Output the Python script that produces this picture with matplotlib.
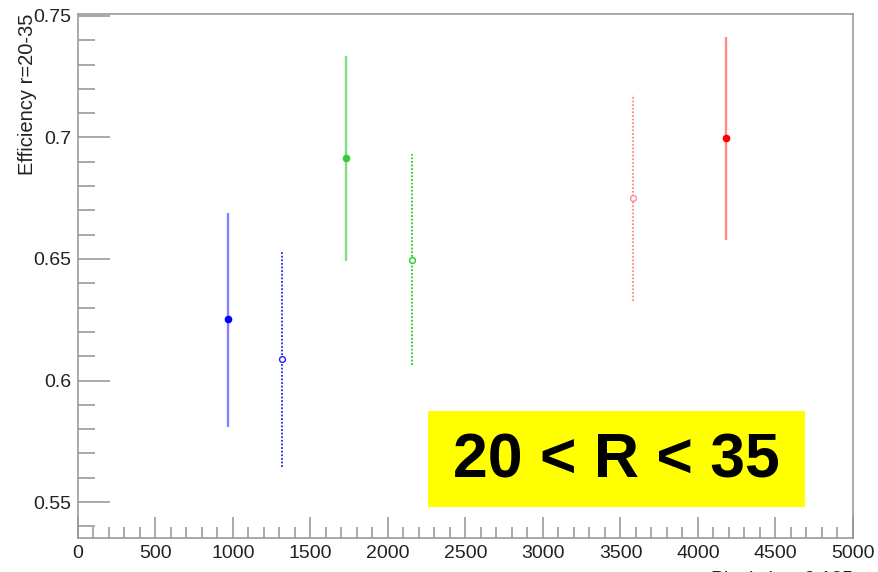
import matplotlib
matplotlib.use("Agg")
import matplotlib.pyplot as plt
from matplotlib.ticker import MultipleLocator

plt.rcParams['font.family'] = ['Liberation Sans', 'DejaVu Sans']

# data
x_vals = [968, 1316, 1729, 2155, 3581, 4181]
y_vals = [0.6253, 0.6089, 0.6916, 0.6496, 0.675, 0.6998]
err_up = [0.0437, 0.044, 0.0419, 0.0436, 0.0425, 0.0416]
err_dn = [0.0443, 0.0445, 0.0424, 0.0432, 0.0423, 0.042]
marker_colors = ['#0000ff', '#0000ff', '#33cc33', '#33cc33', '#ff0000', '#ff0000']
line_colors = ['#8080ff', '#2020ff', '#80dd80', '#22cc22', '#ff8888', '#ff8888']
filled = [True, False, True, False, False, True]
dotted = [False, True, False, True, True, False]

fig = plt.figure(figsize=(8.79, 5.72), dpi=100)
ax = fig.add_axes([78/879, 1-538/572, (853-78)/879, (538-14)/572])

for xv, yv, eu, ed, mc, lc, f, d in zip(x_vals, y_vals, err_up, err_dn,
                                         marker_colors, line_colors, filled, dotted):
    ax.vlines(xv, yv - ed, yv + eu, colors=lc, linewidth=1.7 if not d else 1.3,
              linestyles=(0, (1.0, 1.0)) if d else 'solid', zorder=2)
    ax.plot([xv], [yv], 'o', ms=4.5 if f else 4.2,
            mfc=mc if f else 'white', mec=mc if f else lc,
            mew=1.0, zorder=3)

ax.set_xlim(0, 5000)
ax.set_ylim(0.5352, 0.7508)
ax.xaxis.set_major_locator(MultipleLocator(500))
ax.xaxis.set_minor_locator(MultipleLocator(100))
ax.yaxis.set_major_locator(MultipleLocator(0.05))
ax.yaxis.set_minor_locator(MultipleLocator(0.01))
ax.yaxis.set_major_formatter(plt.FuncFormatter(lambda v, p: ('%.2f' % v).rstrip('0').rstrip('.') if ('%.2f' % v).endswith('5') else '%.1f' % v))

for s in ax.spines.values():
    s.set_color('#999999')
    s.set_linewidth(1.2)
ax.tick_params(axis='both', which='both', direction='in', colors='#999999',
               labelcolor='#222222', labelsize=14, width=1.2)
ax.tick_params(axis='x', which='major', length=15, pad=5)
ax.tick_params(axis='x', which='minor', length=8)
ax.tick_params(axis='y', which='major', length=23, pad=5)
ax.tick_params(axis='y', which='minor', length=12)

ax.set_ylabel('Efficiency r=20-35', fontsize=14.5, color='#222222', loc='top', labelpad=-3)

fig.text(853/879, 1-583/572, 'Pixel size, 0.135', ha='right', va='baseline', fontsize=14, color='#222222')

box = plt.Rectangle((428/879, 1-507/572), (805-428)/879, (507-411)/572,
                    transform=fig.transFigure, facecolor='#ffff00', edgecolor='none', zorder=5)
fig.patches.append(box)
fig.text(616/879, 1-461/572, '20 < R < 35', ha='center', va='center', fontsize=45,
         fontweight='bold', color='black', zorder=6)

fig.savefig('out.png', dpi=100)
